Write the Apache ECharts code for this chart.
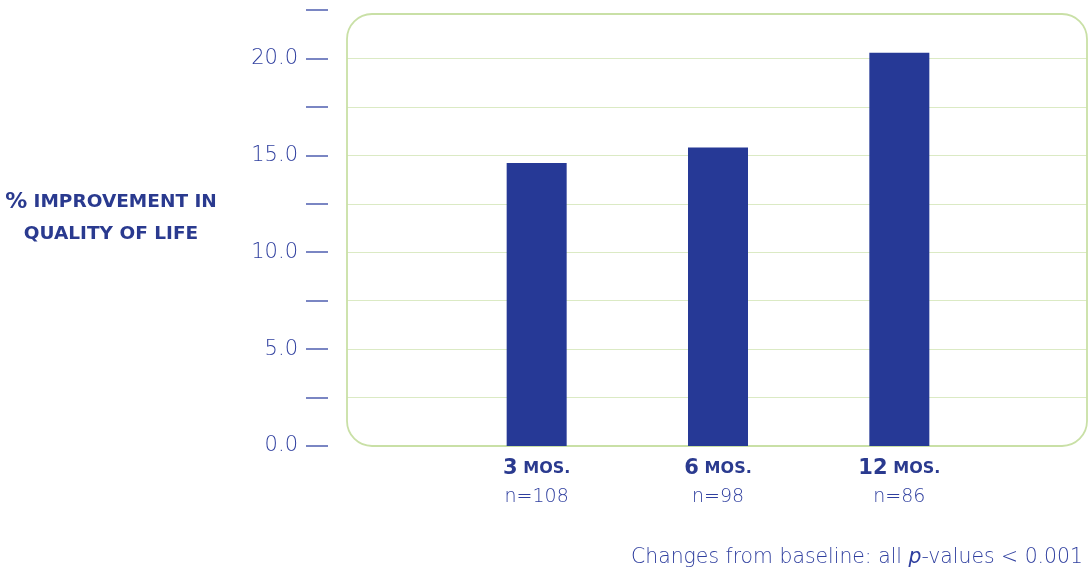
<!DOCTYPE html>
<html>
<head>
<meta charset="utf-8">
<script src="https://cdn.jsdelivr.net/npm/echarts@6/dist/echarts.min.js"></script>
<style>
  html, body { margin: 0; padding: 0; background: #ffffff; }
  #chart { width: 1088px; height: 571px; }
</style>
</head>
<body>
<div id="chart"></div>
<script>
// Follow-up points and their sample sizes
const periods = ['3', '6', '12'];
const sampleSizes = [108, 98, 86];
// Mean % improvement in quality of life from baseline
const improvement = [14.6, 15.4, 20.3];
// Value axis range and step
const yMin = 0;
const yMax = 22.5;
const yStep = 2.5;

const DARK = '#2a3a8f';
const LIGHT = '#2f3f9f';
const TICK = '#4f5fb0';
const BAR = '#263996';
const GREEN_LINE = '#dbeac4';
const GREEN_BORDER = '#c9e0a6';
const FONT = '"DejaVu Sans", sans-serif';

const chart = echarts.init(document.getElementById('chart'));

chart.setOption({
  animation: false,
  backgroundColor: '#ffffff',
  grid: [
    { left: 347, right: 1, top: 10, bottom: 125 },
    { left: 446, right: 98, top: 10, bottom: 125 }
  ],
  xAxis: [
    { gridIndex: 0, type: 'category', data: [''], show: false },
    {
      gridIndex: 1,
      type: 'category',
      data: periods,
      axisLine: { show: false },
      axisTick: { show: false },
      axisLabel: {
        margin: 9,
        formatter: function (v, i) {
          return '{num|' + v + '}{sp| }{mos|MOS.}\n{n|n=' + sampleSizes[i] + '}';
        },
        rich: {
          num: { fontFamily: FONT, fontWeight: 'bold', fontSize: 21, color: DARK, lineHeight: 28 },
          sp: { fontFamily: FONT, fontSize: 18, lineHeight: 28 },
          mos: { fontFamily: FONT, fontWeight: 'bold', fontSize: 16, color: DARK, lineHeight: 28 },
          n: { fontFamily: FONT, fontWeight: 200, fontSize: 19, color: LIGHT, lineHeight: 28 }
        }
      }
    }
  ],
  yAxis: [
    {
      gridIndex: 0,
      type: 'value',
      min: yMin,
      max: yMax,
      interval: yStep,
      offset: 19,
      axisLine: { show: false },
      axisTick: { show: true, length: 22, lineStyle: { color: TICK, width: 1.5 } },
      axisLabel: {
        margin: 30,
        fontFamily: FONT,
        fontWeight: 200,
        fontSize: 21,
        color: LIGHT,
        formatter: function (v) {
          return (Math.abs(v % 5) < 1e-9) ? v.toFixed(1) : '';
        }
      },
      splitLine: {
        show: true,
        showMinLine: false,
        showMaxLine: false,
        lineStyle: { color: GREEN_LINE, width: 1 }
      }
    },
    {
      gridIndex: 1,
      type: 'value',
      min: yMin,
      max: yMax,
      interval: yStep,
      show: false,
      splitLine: { show: false }
    }
  ],
  graphic: [
    {
      type: 'rect',
      z: 1,
      silent: true,
      shape: { x: 347, y: 14, width: 740, height: 432, r: 25 },
      style: { fill: 'none', stroke: GREEN_BORDER, lineWidth: 1.8 }
    },
    {
      type: 'text',
      silent: true,
      style: {
        x: 111,
        y: 218,
        align: 'center',
        verticalAlign: 'middle',
        text: '{p|%}{sp| }{t|IMPROVEMENT IN}\n{t|QUALITY OF LIFE}',
        rich: {
          p: { fontFamily: FONT, fontWeight: 'bold', fontSize: 22, fill: DARK, lineHeight: 32 },
          sp: { fontFamily: FONT, fontSize: 20, lineHeight: 32 },
          t: { fontFamily: FONT, fontWeight: 'bold', fontSize: 18.5, fill: DARK, lineHeight: 32 }
        }
      }
    },
    {
      type: 'text',
      silent: true,
      style: {
        x: 1083,
        y: 558,
        align: 'right',
        verticalAlign: 'middle',
        text: '{a|Changes from baseline: all }{i|p}{a|-values < 0.001}',
        rich: {
          a: { fontFamily: FONT, fontWeight: 200, fontSize: 20.4, fill: LIGHT },
          i: { fontFamily: FONT, fontWeight: 200, fontStyle: 'italic', fontSize: 20.4, fill: LIGHT }
        }
      }
    }
  ],
  series: [
    {
      type: 'bar',
      xAxisIndex: 1,
      yAxisIndex: 1,
      data: improvement,
      barWidth: 60,
      itemStyle: { color: BAR },
      z: 3
    }
  ]
});
</script>
</body>
</html>
